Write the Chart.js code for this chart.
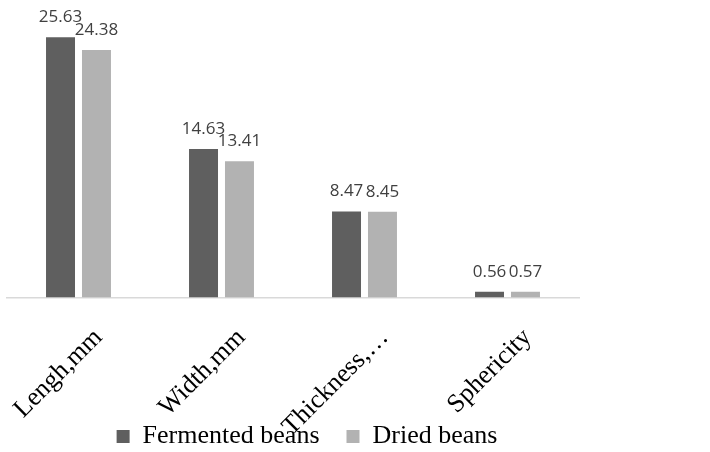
<!DOCTYPE html>
<html>
<head>
<meta charset="utf-8">
<script src="https://cdn.jsdelivr.net/npm/chart.js@4.4.1/dist/chart.umd.min.js"></script>
<style>
  body { margin: 0; background: #fff; }
  #wrap { position: relative; width: 610px; height: 452px; }
</style>
</head>
<body>
<div id="wrap"><canvas id="chart"></canvas></div>
<script>
const categories = ["Lengh,mm", "Width,mm", "Thickness,…", "Sphericity"];
const fermented = [25.63, 14.63, 8.47, 0.56];
const dried = [24.38, 13.41, 8.45, 0.57];

// draw the value above each bar
const valueLabels = {
  id: "valueLabels",
  afterDatasetsDraw(chart) {
    const ctx = chart.ctx;
    ctx.save();
    ctx.font = "17px 'Open Sans'";
    ctx.fillStyle = "#404040";
    ctx.textAlign = "center";
    ctx.textBaseline = "alphabetic";
    chart.data.datasets.forEach((ds, i) => {
      chart.getDatasetMeta(i).data.forEach((bar, j) => {
        ctx.fillText(ds.data[j].toFixed(2), bar.x, bar.y - 15);
      });
    });
    ctx.restore();
  },
};

// let the rotated category labels run past the axis box (no clipping)
const looseLabels = {
  id: "looseLabels",
  afterLayout(chart) {
    chart.scales.x.bottom = chart.height;
  },
};

new Chart(document.getElementById("chart"), {
  type: "bar",
  data: {
    labels: categories,
    datasets: [
      {
        label: "Fermented beans",
        data: fermented,
        backgroundColor: "#5f5f5f",
        categoryPercentage: 0.503,
        barPercentage: 0.806,
      },
      {
        label: "Dried beans",
        data: dried,
        backgroundColor: "#b2b2b2",
        categoryPercentage: 0.503,
        barPercentage: 0.806,
      },
    ],
  },
  options: {
    responsive: true,
    maintainAspectRatio: false,
    animation: false,
    layout: { padding: { top: 3, left: 7, right: 3, bottom: -7.5 } },
    plugins: {
      tooltip: { enabled: false },
      legend: {
        position: "bottom",
        labels: {
          font: { family: "'Liberation Serif'", size: 26 },
          color: "#000",
          boxWidth: 13,
          boxHeight: 13,
          padding: 27,
        },
      },
    },
    scales: {
      x: {
        grid: { display: false },
        border: { display: true, color: "#d9d9d9", width: 1.5 },
        ticks: {
          autoSkip: false,
          minRotation: 45,
          maxRotation: 45,
          labelOffset: 20,
          padding: 17,
          color: "#000",
          font: { family: "'Liberation Serif'", size: 26 },
        },
        afterFit(scale) {
          scale.height = 99;
          scale.paddingLeft = 0;
          scale.paddingRight = 31;
        },
      },
      y: {
        display: false,
        min: 0,
        max: 29,
      },
    },
  },
  plugins: [valueLabels, looseLabels],
});
</script>
</body>
</html>
